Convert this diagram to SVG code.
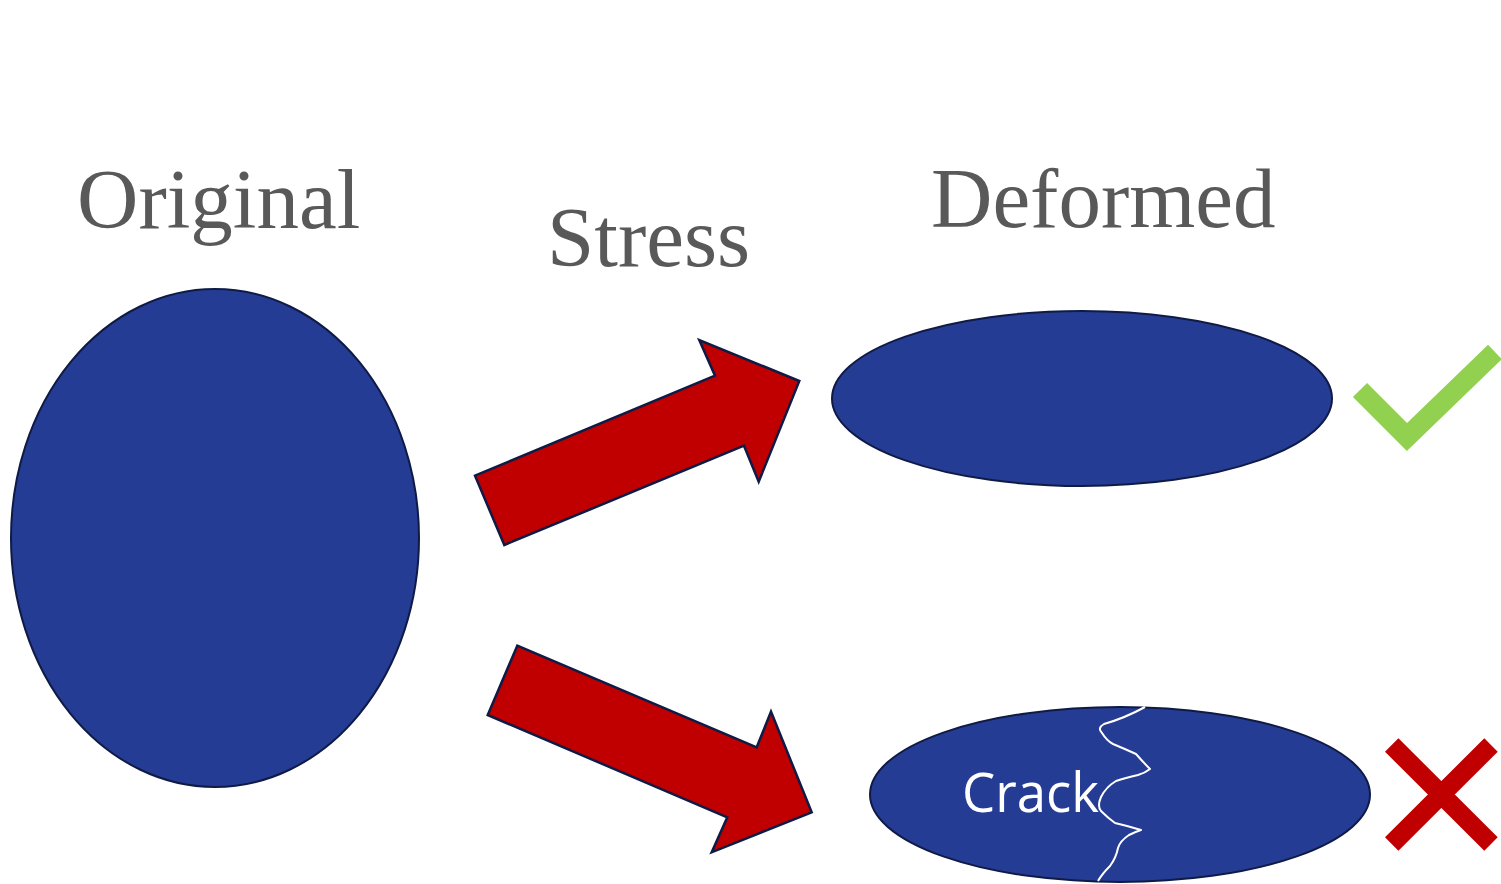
<svg xmlns="http://www.w3.org/2000/svg" width="1501" height="884" viewBox="0 0 1501 884">
<style>
.title{font-family:"Liberation Serif","Times New Roman",serif;font-size:85px;fill:#595959}
.blob{fill:#253C94;stroke:#0F1B45;stroke-width:2}
.arrow{fill:#C00000;stroke:#0F1B45;stroke-width:2.5;stroke-linejoin:miter}
</style>
<rect width="1501" height="884" fill="#ffffff"/>
<g id="label-original"><text class="title" x="77" y="228">Original</text></g>
<g id="label-stress"><text class="title" x="547" y="266">Stress</text></g>
<g id="label-deformed"><text class="title" x="931" y="227">Deformed</text></g>
<g id="original"><ellipse class="blob" cx="215" cy="538" rx="204" ry="249"/></g>
<g id="deformed-ok"><ellipse class="blob" cx="1082" cy="398.5" rx="250" ry="87.5"/></g>
<g id="deformed-crack">
<ellipse class="blob" cx="1120" cy="794.5" rx="250" ry="87.5"/>
<text x="962" y="812" font-family="'Open Sans','Liberation Sans',sans-serif" font-size="54" fill="#ffffff" textLength="137" lengthAdjust="spacingAndGlyphs">Crack</text>
<path d="M1145,707 Q1125,718 1104,724 Q1097,728 1102,733 Q1107,741 1113,744 Q1125,749 1136,754 Q1143,762 1150,769 Q1145,773 1138,775 Q1125,778 1116,781 Q1106,787 1101,797 Q1097,806 1101,811 Q1108,818 1115,823 Q1128,826 1141,830 Q1135,832 1129,835 Q1120,841 1118,848 Q1116,858 1110,866 Q1102,874 1098,881" fill="none" stroke="#ffffff" stroke-width="2" stroke-linejoin="round"/>
</g>
<g id="connectors">
<polygon class="arrow" points="504.3,545 475,475.7 715,375.7 699.3,340 799.3,381 758.7,481.7 744,445.7"/>
<polygon class="arrow" points="517.3,645.7 487.7,715 727.3,817.3 711.7,852.3 811.7,812.3 771,711.7 756.7,747.3"/>
</g>
<g id="check"><polyline points="1360,390 1407,437 1495,352" fill="none" stroke="#92D050" stroke-width="20"/></g>
<g id="cross"><path d="M1391.7,745 L1491,844 M1491,745 L1391.7,844" stroke="#C00000" stroke-width="19" fill="none"/></g>
</svg>
